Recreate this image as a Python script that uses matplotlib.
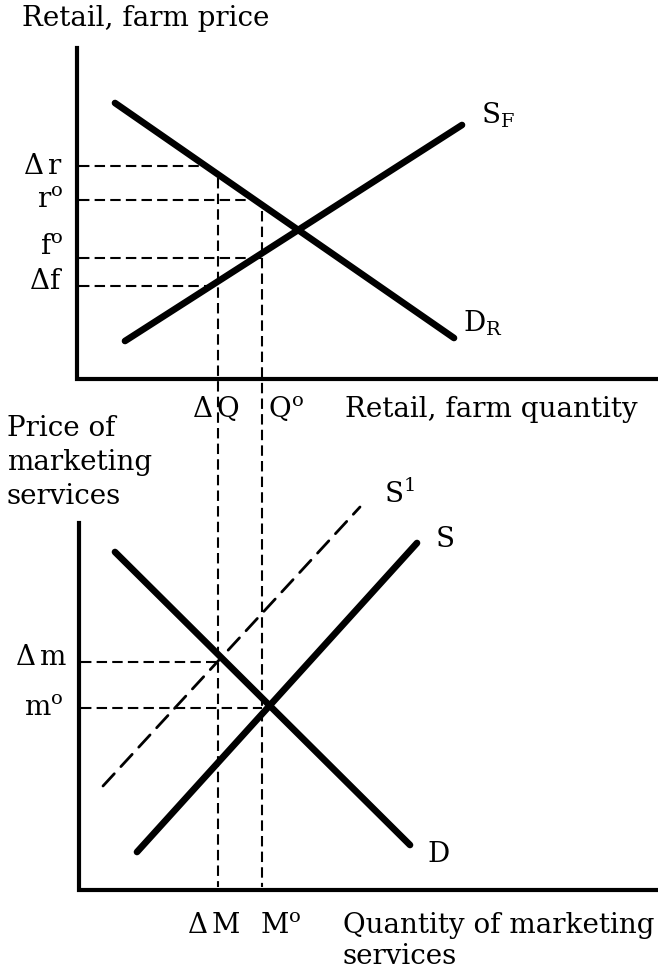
import matplotlib
matplotlib.use("Agg")
import matplotlib.pyplot as plt

plt.rcParams['font.family'] = ['DejaVu Serif']
plt.rcParams['mathtext.fontset'] = 'dejavuserif'

# ---- data (pixel-space diagram coordinates, y downwards) ----
# top panel curves
dr_x = [115, 454]; dr_y = [103, 338]          # retail demand D_R
sf_x = [125, 462]; sf_y = [341, 125]          # farm supply S_F
# top panel price levels and quantities
top_prices = [166, 200, 258, 286]             # Δr, r0, f0, Δf
top_price_ends = [205, 248, 262, 218]
top_price_labels = [r'$\mathrm{\Delta\,r}$', r'$\mathrm{r^{o}}$', r'$\mathrm{f^{o}}$', r'$\mathrm{\Delta f}$']
top_label_base = [174, 207, 254, 289]
q_x = [218, 262]                              # ΔQ, Q0 (also ΔM, M0)
q_top = [178, 211]
q_bottom = [887, 887]

# bottom panel curves
d_x = [115, 410]; d_y = [552, 845]            # demand D
s_x = [137, 417]; s_y = [852, 543]            # supply S
s1_x = [103, 360]; s1_y = [786, 507]          # shifted supply S1
bot_prices = [662, 708]                       # Δm, m0
bot_price_ends = [218, 262]
bot_price_labels = [r'$\mathrm{\Delta\,m}$', r'$\mathrm{m^{o}}$']
bot_label_base = [665, 715]

# axes frames
top_axis_x = 77; top_axis_top = 48; top_axis_y = 379
bot_axis_x = 79; bot_axis_top = 523; bot_axis_y = 890
right_edge = 658

fig = plt.figure(figsize=(6.58, 9.73), dpi=100)
ax = fig.add_axes([0, 0, 1, 1])
ax.set_xlim(0, 658)
ax.set_ylim(973, 0)
ax.axis('off')

K = 'black'
thick = 4.8
axis_lw = 3.0
dash_lw = 1.5
dash = (0, (5, 2.5))

# axes
ax.plot([top_axis_x, top_axis_x, right_edge], [top_axis_top, top_axis_y, top_axis_y], color=K, lw=axis_lw, solid_joinstyle='miter')
ax.plot([bot_axis_x, bot_axis_x, right_edge], [bot_axis_top, bot_axis_y, bot_axis_y], color=K, lw=axis_lw, solid_joinstyle='miter')

# dashed guide lines
for y, xe in zip(top_prices, top_price_ends):
    ax.plot([top_axis_x + 2, xe], [y, y], color=K, lw=dash_lw, linestyle=dash)
for y, xe in zip(bot_prices, bot_price_ends):
    ax.plot([bot_axis_x + 2, xe], [y, y], color=K, lw=dash_lw, linestyle=dash)
for x, yt, yb in zip(q_x, q_top, q_bottom):
    ax.plot([x, x], [yt, yb], color=K, lw=dash_lw, linestyle=dash)

# curves
ax.plot(dr_x, dr_y, color=K, lw=thick, solid_capstyle='round')
ax.plot(sf_x, sf_y, color=K, lw=thick, solid_capstyle='round')
ax.plot(d_x, d_y, color=K, lw=thick, solid_capstyle='round')
ax.plot(s_x, s_y, color=K, lw=thick, solid_capstyle='round')
ax.plot(s1_x, s1_y, color=K, lw=2.0, linestyle=(0, (6, 3.5)), dash_capstyle='round')

fs = 20
B = 'baseline'
# texts
ax.text(22, 26, 'Retail, farm price', fontsize=fs, va=B, ha='left')
for lab, y in zip(top_price_labels, top_label_base):
    ax.text(63, y, lab, fontsize=fs, va=B, ha='right')
for lab, y, xr in zip(bot_price_labels, bot_label_base, [67, 63]):
    ax.text(xr, y, lab, fontsize=fs, va=B, ha='right')

ax.text(481, 123, r'$\mathrm{S_F}$', fontsize=fs, va=B, ha='left')
ax.text(463, 331, r'$\mathrm{D_R}$', fontsize=fs, va=B, ha='left')
ax.text(384, 503, r'$\mathrm{S^1}$', fontsize=fs, va=B, ha='left')
ax.text(436, 547, 'S', fontsize=fs, va=B, ha='left')
ax.text(427, 862, 'D', fontsize=fs, va=B, ha='left')

ax.text(216, 417, r'$\mathrm{\Delta\,Q}$', fontsize=fs, va=B, ha='center')
ax.text(286, 417, r'$\mathrm{Q^{o}}$', fontsize=fs, va=B, ha='center')
ax.text(345, 417, 'Retail, farm quantity', fontsize=fs, va=B, ha='left')

ax.text(7, 436, 'Price of', fontsize=fs, va=B, ha='left')
ax.text(7, 470, 'marketing', fontsize=fs, va=B, ha='left')
ax.text(7, 504, 'services', fontsize=fs, va=B, ha='left')

ax.text(214, 933, r'$\mathrm{\Delta\,M}$', fontsize=fs, va=B, ha='center')
ax.text(281, 933, r'$\mathrm{M^{o}}$', fontsize=fs, va=B, ha='center')
ax.text(343, 933, 'Quantity of marketing', fontsize=fs, va=B, ha='left')
ax.text(343, 964, 'services', fontsize=fs, va=B, ha='left')

fig.savefig('out.png', dpi=100, facecolor='white')
